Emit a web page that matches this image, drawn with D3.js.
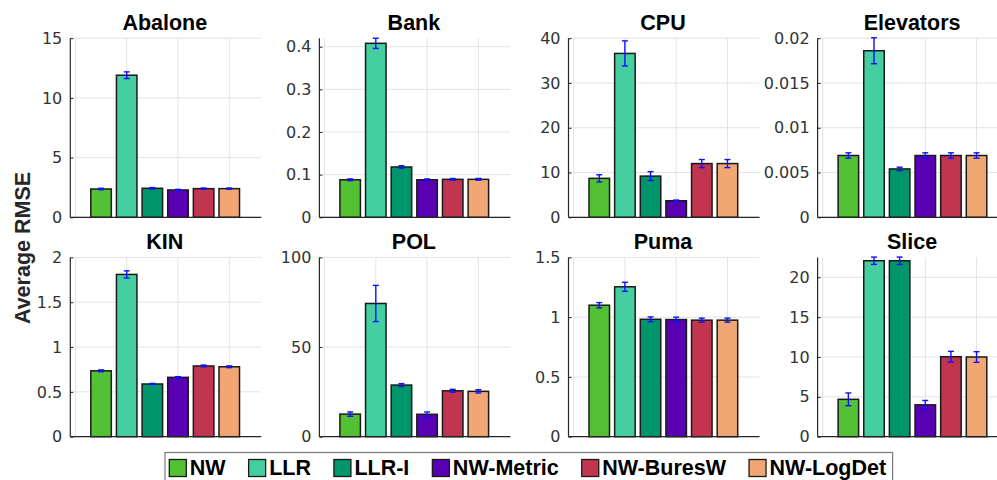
<!DOCTYPE html>
<html>
<head>
<meta charset="utf-8">
<script src="https://cdn.jsdelivr.net/npm/d3@7"></script>
<style>
  html, body { margin: 0; padding: 0; background: #fff; }
  svg { display: block; }
</style>
</head>
<body>
<svg id="chart" width="997" height="480"></svg>
<script>
// Regression benchmarks: average RMSE per method on eight datasets
const datasets = ["Abalone", "Bank", "CPU", "Elevators", "KIN", "POL", "Puma", "Slice"];
const methods = ["NW", "LLR", "LLR-I", "NW-Metric", "NW-BuresW", "NW-LogDet"];
const methodColors = ["#54c134", "#45cfa0", "#00966b", "#5a00b4", "#c2354f", "#f2a772"];

// Mean RMSE and error (half-width) per method, one pair of arrays per dataset
const abaloneMean   = [2.37, 11.9, 2.43, 2.29, 2.40, 2.40];
const abaloneErr    = [0.06, 0.28, 0.06, 0.05, 0.05, 0.05];
const bankMean      = [0.088, 0.408, 0.118, 0.088, 0.089, 0.089];
const bankErr       = [0.002, 0.012, 0.003, 0.002, 0.002, 0.002];
const cpuMean       = [8.7, 36.6, 9.2, 3.7, 12.0, 12.0];
const cpuErr        = [0.8, 2.8, 1.0, 0.15, 0.9, 0.9];
const elevatorsMean = [0.0069, 0.0186, 0.0054, 0.0069, 0.0069, 0.0069];
const elevatorsErr  = [0.0003, 0.00145, 0.0002, 0.0003, 0.0003, 0.0003];
const kinMean       = [0.735, 1.81, 0.588, 0.662, 0.789, 0.78];
const kinErr        = [0.01, 0.04, 0.006, 0.008, 0.01, 0.01];
const polMean       = [12.6, 74.3, 28.8, 12.5, 25.6, 25.3];
const polErr        = [1.2, 10.1, 0.8, 1.3, 0.8, 0.9];
const pumaMean      = [1.10, 1.254, 0.982, 0.98, 0.975, 0.975];
const pumaErr       = [0.022, 0.038, 0.02, 0.02, 0.017, 0.017];
const sliceMean     = [4.69, 22.08, 22.08, 4.0, 10.04, 10.0];
const sliceErr      = [0.8, 0.46, 0.46, 0.55, 0.67, 0.67];

// Y-axis limits and tick labels per dataset
const yMax = [15, 0.42, 40, 0.02, 2, 100, 1.5, 22.5];
const yTickValues = [
  [0, 5, 10, 15],
  [0, 0.1, 0.2, 0.3, 0.4],
  [0, 10, 20, 30, 40],
  [0, 0.005, 0.01, 0.015, 0.02],
  [0, 0.5, 1, 1.5, 2],
  [0, 50, 100],
  [0, 0.5, 1, 1.5],
  [0, 5, 10, 15, 20]
];

const means = [abaloneMean, bankMean, cpuMean, elevatorsMean, kinMean, polMean, pumaMean, sliceMean];
const errs  = [abaloneErr, bankErr, cpuErr, elevatorsErr, kinErr, polErr, pumaErr, sliceErr];

const svg = d3.select("#chart");

// Panel layout (2 rows x 4 columns)
const panelW = 191;
const colStep = 249.1;
const firstLeft = 70.3;
const rowTop = [38.2, 257.4];
const rowBottom = [217.3, 436.7];

const axisColor = "#262626";
const gridColor = "#e3e3e3";
const errColor = "#1010ff";
const tickFont = "'DejaVu Sans', sans-serif";
const boldFont = "'Liberation Sans', Arial, Helvetica, sans-serif";

datasets.forEach((name, i) => {
  const row = Math.floor(i / 4), col = i % 4;
  const left = firstLeft + col * colStep;
  const top = rowTop[row], bottom = rowBottom[row];

  const x = d3.scaleLinear().domain([-0.2, 7.25]).range([left, left + panelW]);
  const y = d3.scaleLinear().domain([0, yMax[i]]).range([bottom, top]);
  const bw = x(0.8) - x(0);

  const g = svg.append("g").attr("class", "panel");

  // grid
  g.selectAll("line.hgrid").data(yTickValues[i]).join("line")
    .attr("x1", left).attr("x2", left + panelW)
    .attr("y1", d => y(d)).attr("y2", d => y(d))
    .attr("stroke", gridColor).attr("stroke-width", 1);
  g.selectAll("line.vgrid").data([0, 2, 4, 6]).join("line")
    .attr("x1", d => x(d)).attr("x2", d => x(d))
    .attr("y1", top).attr("y2", bottom)
    .attr("stroke", gridColor).attr("stroke-width", 1);

  const rows = methods.map((m, k) => ({ m, k, v: means[i][k], e: errs[i][k] }));

  // bars
  g.selectAll("rect.bar").data(rows).join("rect")
    .attr("class", "bar")
    .attr("x", d => x(d.k + 1) - bw / 2)
    .attr("width", bw)
    .attr("y", d => y(d.v))
    .attr("height", d => y(0) - y(d.v))
    .attr("fill", d => methodColors[d.k])
    .attr("stroke", "#1a1a1a")
    .attr("stroke-width", 1.5);

  // error bars
  const eb = g.selectAll("g.err").data(rows).join("g").attr("class", "err")
    .attr("stroke", errColor).attr("stroke-width", 1.4);
  eb.append("line")
    .attr("x1", d => x(d.k + 1)).attr("x2", d => x(d.k + 1))
    .attr("y1", d => y(d.v - d.e)).attr("y2", d => y(d.v + d.e));
  eb.append("line")
    .attr("x1", d => x(d.k + 1) - 3).attr("x2", d => x(d.k + 1) + 3)
    .attr("y1", d => y(d.v - d.e)).attr("y2", d => y(d.v - d.e));
  eb.append("line")
    .attr("x1", d => x(d.k + 1) - 3).attr("x2", d => x(d.k + 1) + 3)
    .attr("y1", d => y(d.v + d.e)).attr("y2", d => y(d.v + d.e));

  // y axis
  const yAxis = d3.axisLeft(y).tickValues(yTickValues[i])
    .tickSize(-3).tickSizeOuter(0).tickPadding(8)
    .tickFormat(d => String(+d.toPrecision(6)));
  const ya = g.append("g").attr("transform", `translate(${left},0)`).call(yAxis);
  ya.select(".domain").attr("stroke", axisColor).attr("stroke-width", 1.2)
    .attr("d", `M0,${top}V${bottom}`);
  ya.selectAll(".tick line").attr("stroke", axisColor);
  ya.selectAll(".tick text").attr("fill", "#333").attr("font-size", 16)
    .attr("font-family", tickFont);

  // x axis line (no labels)
  g.append("line")
    .attr("x1", left).attr("x2", left + panelW)
    .attr("y1", bottom).attr("y2", bottom)
    .attr("stroke", axisColor).attr("stroke-width", 1.2);

  // title
  g.append("text")
    .attr("x", left + panelW / 2 - 1)
    .attr("y", row === 0 ? 29.5 : 249.3)
    .attr("text-anchor", "middle")
    .attr("font-family", boldFont)
    .attr("font-weight", "bold")
    .attr("font-size", 21.5)
    .attr("fill", "#000")
    .text(name);
});

// shared y label
svg.append("text")
  .attr("transform", "translate(30,248) rotate(-90)")
  .attr("text-anchor", "middle")
  .attr("font-family", boldFont)
  .attr("font-weight", "bold")
  .attr("font-size", 21.5)
  .attr("fill", "#262626")
  .text("Average RMSE");

// legend
const legend = svg.append("g").attr("class", "legend");
const legBox = legend.append("rect")
  .attr("x", 165).attr("y", 452.5).attr("height", 40)
  .attr("fill", "#fff").attr("stroke", "#7a7a7a").attr("stroke-width", 1.2);
let lx = 169.3;
methods.forEach((m, k) => {
  legend.append("rect")
    .attr("x", lx).attr("y", 459.5).attr("width", 17).attr("height", 17)
    .attr("fill", methodColors[k]).attr("stroke", "#1a1a1a").attr("stroke-width", 1.3);
  const t = legend.append("text")
    .attr("x", lx + 20.5).attr("y", 475)
    .attr("font-family", boldFont).attr("font-weight", "bold")
    .attr("font-size", 21.5).attr("fill", "#000")
    .text(m);
  const w = t.node().getComputedTextLength();
  if (k < methods.length - 1) lx = lx + 20.5 + w + 23;
  else legBox.attr("width", lx + 20.5 + w + 6.5 - 165);
});
</script>
</body>
</html>
